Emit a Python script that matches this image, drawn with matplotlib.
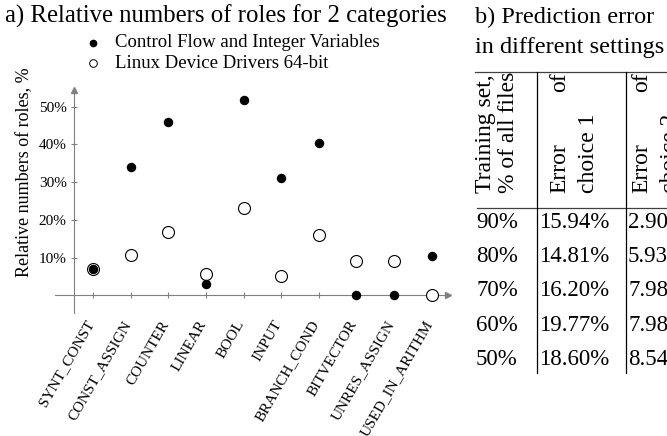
import matplotlib
matplotlib.use('Agg')
import matplotlib.pyplot as plt
from matplotlib.lines import Line2D
from matplotlib.transforms import ScaledTranslation

plt.rcParams['font.family'] = ['Liberation Serif', 'DejaVu Serif']

# ---------------- data ----------------
categories = ["SYNT_CONST", "CONST_ASSIGN", "COUNTER", "LINEAR", "BOOL", "INPUT",
              "BRANCH_COND", "BITVECTOR", "UNRES_ASSIGN", "USED_IN_ARITHM"]
control_flow = [7.0, 33.9, 45.9, 3.0, 51.8, 31.1, 40.4, 0.0, 0.0, 10.4]
linux_drivers = [6.9, 10.7, 16.7, 5.8, 23.1, 5.1, 16.0, 9.1, 9.1, 0.0]
series_names = ["Control Flow and Integer Variables", "Linux Device Drivers 64-bit"]
y_ticks = [10, 20, 30, 40, 50]

table_train = ["90%", "80%", "70%", "60%", "50%"]
table_err1 = ["15.94%", "14.81%", "16.20%", "19.77%", "18.60%"]
table_err2 = ["2.90%", "5.93%", "7.98%", "7.98%", "8.54%"]

# ---------------- layout ----------------
W, H = 667, 436
fig = plt.figure(figsize=(W / 100, H / 100), dpi=100)


def fx(px):
    return px / W


def fy(py):
    return 1 - py / H


GRAY = '#808080'
ax_l, ax_r, ax_t, ax_b = 40, 460, 80, 330
ax = fig.add_axes([fx(ax_l), fy(ax_b), (ax_r - ax_l) / W, (ax_b - ax_t) / H])
ax.patch.set_alpha(0)
ax.set_xlim(-1.408, 9.753)
ax.set_ylim(-9.166, 57.06)

x = list(range(len(categories)))
ax.plot(x, linux_drivers, ls='', marker='o', ms=8.6, mfc='white', mec='black',
        mew=0.8, zorder=3, clip_on=False)
ax.plot(x, control_flow, ls='', marker='o', ms=5.8, color='black', zorder=4,
        clip_on=False)

for s in ['top', 'right']:
    ax.spines[s].set_visible(False)
ax.spines['left'].set_position(('data', -0.497))
ax.spines['bottom'].set_position(('data', 0))
ax.spines['left'].set_bounds(-4.66, 54.4)
ax.spines['bottom'].set_bounds(-1.01, 9.44)
for s in ['left', 'bottom']:
    ax.spines[s].set_color(GRAY)
    ax.spines[s].set_linewidth(0.8)
ax.plot([9.44], [0], marker='>', ms=4, color=GRAY, clip_on=False, zorder=2)
ax.plot([-0.497], [54.4], marker='^', ms=4, color=GRAY, clip_on=False, zorder=2)

ax.set_xticks(x)
ax.set_xticklabels(categories, rotation=60, ha='right', va='top',
                   rotation_mode='anchor', fontsize=11)
ax.set_yticks(y_ticks)
ax.set_yticklabels([f"{v}%" for v in y_ticks], fontsize=11)
ax.tick_params(axis='both', direction='inout', length=5, width=0.8, color=GRAY)
ax.tick_params(axis='x', pad=14)
ax.tick_params(axis='y', pad=3)
shift = ScaledTranslation(-8 / 100, 0, fig.dpi_scale_trans)
for lab in ax.get_xticklabels():
    lab.set_transform(lab.get_transform() + shift)

fig.text(fx(25), fy(172), "Relative numbers of roles, %", rotation=90,
         ha='center', va='center', fontsize=13)

fig.text(fx(5), fy(16), "a) Relative numbers of roles for 2 categories",
         ha='left', va='center', fontsize=17.8)

# legend (manual)
leg_y = [42.7, 63]
fig.add_artist(Line2D([fx(93)], [fy(leg_y[0])], marker='o', ls='', ms=4.5,
                      color='black', transform=fig.transFigure))
fig.add_artist(Line2D([fx(93)], [fy(leg_y[1])], marker='o', ls='', ms=5.5,
                      mfc='white', mec='black', mew=0.7, transform=fig.transFigure))
for yy, name in zip(leg_y, series_names):
    fig.text(fx(115), fy(yy), name, ha='left', va='center', fontsize=13.5)

# ---------------- table b) ----------------
fig.text(fx(475), fy(17), "b) Prediction error", ha='left', va='center', fontsize=17.5)
fig.text(fx(475), fy(48), "in different settings", ha='left', va='center', fontsize=17.5)


def fline(x0, y0, x1, y1, color='black', lw=0.9):
    fig.add_artist(Line2D([fx(x0), fx(x1)], [fy(y0), fy(y1)], color=color, lw=lw,
                          transform=fig.transFigure))


fline(475, 72, 667, 72, color='#404040')
fline(477, 208, 667, 208, color='#404040')
fline(536.7, 72, 536.7, 373)
fline(626, 72, 626, 373)

hdr_fs = 17


def vtext(px, py, s, ha):
    fig.text(fx(px), fy(py), s, rotation=90, rotation_mode='anchor', ha=ha,
             va='center', fontsize=hdr_fs)


vtext(485, 193, "Training set,", 'left')
vtext(508, 193, "% of all files", 'left')
vtext(560, 193, "Error", 'left')
vtext(560, 72, "of", 'right')
vtext(588, 193, "choice 1", 'left')
vtext(642, 193, "Error", 'left')
vtext(642, 72, "of", 'right')
vtext(670, 193, "choice 2", 'left')

row_y = [222, 256.5, 290.5, 325, 359.5]
for yy, a, b, c in zip(row_y, table_train, table_err1, table_err2):
    fig.text(fx(476), fy(yy), a, ha='left', va='center', fontsize=16.5)
    fig.text(fx(539), fy(yy), b, ha='left', va='center', fontsize=16.5)
    fig.text(fx(628), fy(yy), c, ha='left', va='center', fontsize=16.5)

fig.savefig('out.png', dpi=100)
